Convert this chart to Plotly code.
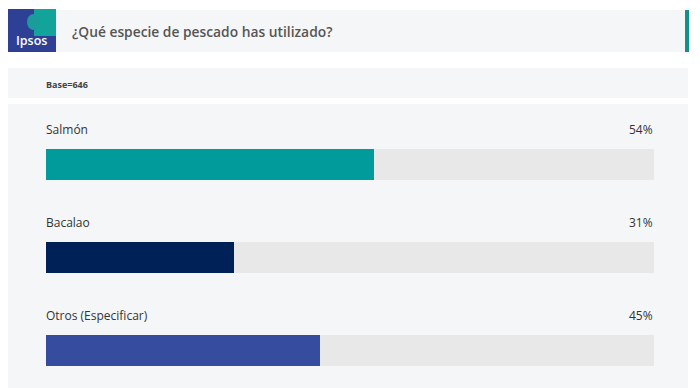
import plotly.graph_objects as go

categories = ["Salmón", "Bacalao", "Otros (Especificar)"]
values = [54, 31, 45]
value_labels = ["54%", "31%", "45%"]
bar_colors = ["#009b9a", "#002157", "#354c9f"]
title_text = "¿Qué especie de pescado has utilizado?"
base_text = "Base=646"

W, H = 700, 388
L, R, T, B = 46, 46, 104, 0
PW, PH = W - L - R, H - T - B
FONT = "Open Sans"

fig = go.Figure()

# background track (100%)
fig.add_trace(go.Bar(
    y=categories, x=[100] * len(categories), orientation="h",
    marker=dict(color="#e8e8e8", line=dict(width=0)),
    width=0.333, hoverinfo="skip", showlegend=False,
))
# value bars
fig.add_trace(go.Bar(
    y=categories, x=values, orientation="h",
    marker=dict(color=bar_colors, line=dict(width=0)),
    width=0.333, showlegend=False,
))

annotations = []
for c, lab in zip(categories, value_labels):
    annotations.append(dict(x=0, y=c, xref="x", yref="y", text=c, showarrow=False,
                            xanchor="left", yanchor="middle", yshift=34.5, xshift=-2,
                            font=dict(family=FONT, size=12, color="#333333")))
    annotations.append(dict(x=100, y=c, xref="x", yref="y", text=lab, showarrow=False,
                            xanchor="right", yanchor="middle", yshift=34.5, xshift=1,
                            font=dict(family=FONT, size=12, color="#333333")))

# pixel -> paper coordinates (paper spans the plot area)
def px(x):
    return (x - L) / PW
def py(y):
    return (H - B - y) / PH

annotations.append(dict(x=px(70), y=py(31), xref="paper", yref="paper", text=title_text,
                        showarrow=False, xanchor="left", yanchor="middle",
                        font=dict(family=FONT, size=13.8, color="#555555", weight=600)))
annotations.append(dict(x=px(44), y=py(84), xref="paper", yref="paper", text=base_text,
                        showarrow=False, xanchor="left", yanchor="middle",
                        font=dict(family=FONT, size=9, color="#444444", weight=700)))
annotations.append(dict(x=px(31.5), y=py(41), xref="paper", yref="paper", text="Ipsos",
                        showarrow=False, xanchor="center", yanchor="middle",
                        font=dict(family=FONT, size=12.5, color="#ffffff", weight=600)))

def rect(x0, y0, x1, y1, color):
    return dict(type="rect", xref="paper", yref="paper", x0=px(x0), x1=px(x1),
                y0=py(y1), y1=py(y0), fillcolor=color, line=dict(width=0), layer="below")

shapes = [
    rect(8, 10, 685, 52, "#f5f6f8"),
    rect(685, 10, 689, 52, "#138f8c"),
    rect(8, 68, 688, 98, "#f5f6f8"),
    rect(8, 104, 688, 388, "#f5f6f8"),
    # logo
    rect(8, 9, 56, 52, "#2e3f96"),
    rect(34, 9, 56, 36, "#12a39a"),
    dict(type="circle", xref="paper", yref="paper", x0=px(27), x1=px(40), y0=py(30), y1=py(14),
         fillcolor="#1a9c9a", line=dict(width=0), layer="below"),
]

fig.update_layout(
    width=W, height=H,
    margin=dict(l=L, r=R, t=T, b=B, pad=0),
    paper_bgcolor="#ffffff", plot_bgcolor="rgba(0,0,0,0)",
    barmode="overlay", bargap=0,
    xaxis=dict(range=[0, 100], visible=False, fixedrange=True),
    yaxis=dict(categoryorder="array", categoryarray=categories,
               range=[2.404, -0.65], visible=False, fixedrange=True),
    annotations=annotations, shapes=shapes,
    font=dict(family=FONT),
)

fig.write_html("out.html", config={"displayModeBar": False},
               post_script="document.body.style.margin='0';document.body.style.padding='0';document.body.style.overflow='hidden';")
